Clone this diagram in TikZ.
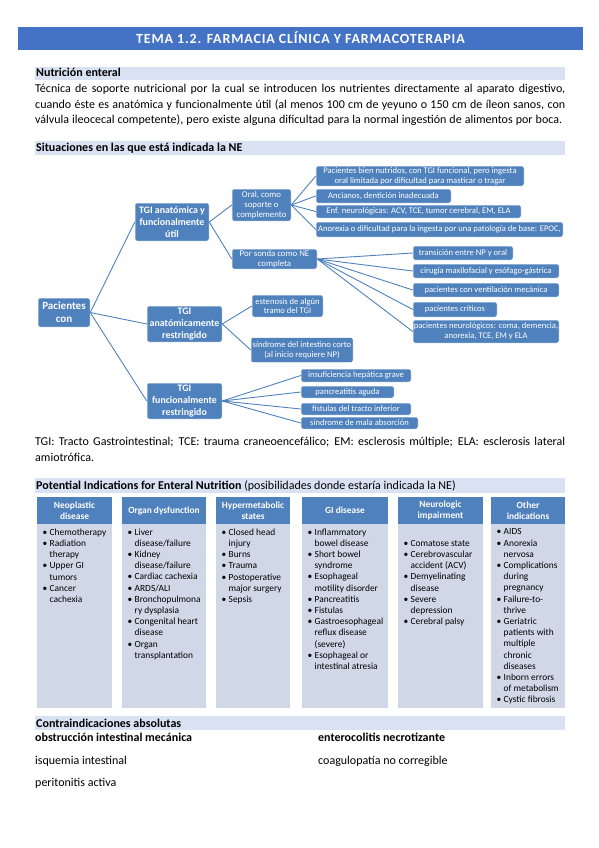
\documentclass[tikz,border=0pt]{standalone}
\usepackage{fontspec}
\setmainfont{Carlito}
\definecolor{titlebar}{HTML}{4472C4}
\definecolor{headbar}{HTML}{D9E2F3}
\definecolor{boxblue}{HTML}{4F81BD}
\definecolor{colpale}{HTML}{D0D8E8}
\def\itm#1{\makebox[7pt][l]{\textbullet}#1}
\def\cnt#1{\hspace*{7pt}#1}

\begin{document}
\begin{tikzpicture}[x=1pt, y=-1pt,
	box/.style={fill=boxblue, draw=white, line width=0.5pt, rounded corners=2pt, text=white, align=center, inner sep=0pt},
	leaf/.style={box, font=\fontsize{8.6}{9.6}\selectfont},
	mid/.style={box, font=\fontsize{8.8}{10}\selectfont},
	tgi/.style={box, font=\bfseries\fontsize{9.9}{11.8}\selectfont},
	link/.style={draw=boxblue, line width=0.9pt},
	colhead/.style={fill=boxblue, text=white, align=center, inner sep=0pt, minimum height=27pt, font=\bfseries\fontsize{9.4}{10.6}\selectfont},
	bullets/.style={anchor=north west, inner sep=0pt, align=left, font=\fontsize{9.4}{11.2}\selectfont},
	plain/.style={anchor=base west, inner sep=0pt, font=\fontsize{12}{14}\selectfont},
	heading/.style={anchor=base west, inner sep=0pt, font=\bfseries\fontsize{12}{14}\selectfont}]
	\useasboundingbox (0,0) rectangle (599,848);
	%%%%% TITLE %%%%%
	\fill[titlebar] (18,27) rectangle (583,50);
	\node[anchor=base, inner sep=0pt, text=white, font=\bfseries\fontsize{14}{16}\selectfont\addfontfeature{LetterSpace=6}] (title) at (300.5,43.5) {TEMA 1.2. FARMACIA CLÍNICA Y FARMACOTERAPIA};
	
	%%%%% NUTRICION ENTERAL %%%%%
	\fill[headbar] (35,67) rectangle (565,80);
	\node[heading] (nutri) at (36,77) {Nutrición enteral};
	\node[plain] (par1) at (35,93) {\makebox[530pt][s]{Técnica de soporte nutricional por la cual se introducen los nutrientes directamente al aparato digestivo,}};
	\node[plain] (par2) at (35,108.5) {\makebox[530pt][s]{cuando éste es anatómica y funcionalmente útil (al menos 100 cm de yeyuno o 150 cm de íleon sanos, con}};
	\node[plain] (par3) at (35,124) {\makebox[527pt][s]{válvula ileocecal competente), pero existe alguna dificultad para la normal ingestión de alimentos por boca.}};
	
	%%%%% SITUACIONES %%%%%
	\fill[headbar] (35,141) rectangle (565,155);
	\node[heading] (situ) at (36,151) {Situaciones en las que está indicada la NE};
	
	\node[box, font=\bfseries\fontsize{11}{13}\selectfont, minimum width=52pt, minimum height=29pt] (pac) at (64,312.5) {Pacientes\\con};
	
	\node[tgi, minimum width=74pt, minimum height=38pt] (tgiA) at (172,222) {TGI anatómica y\\funcionalmente\\útil};
	\node[mid, minimum width=59pt, minimum height=32pt] (oral) at (261.5,205) {Oral, como\\soporte o\\complemento};
	\node[mid, minimum width=85pt, minimum height=20pt] (sonda) at (274.5,259) {Por sonda como NE\\completa};
	
	\node[leaf, minimum width=208pt, minimum height=20pt] (o1) at (420,176) {Pacientes bien nutridos, con TGI funcional, pero ingesta\\oral limitada por dificultad para masticar o tragar};
	\node[leaf, minimum width=135pt, minimum height=14pt] (o2) at (383.5,196) {Ancianos, dentición inadecuada};
	\node[leaf, minimum width=205pt, minimum height=13pt] (o3) at (418.5,211.5) {Enf. neurológicas: ACV, TCE, tumor cerebral, EM, ELA};
	\node[leaf, minimum width=247pt, minimum height=15pt] (o4) at (439.5,229.5) {Anorexia o dificultad para la ingesta por una patología de base: EPOC,};
	
	\node[leaf, minimum width=100pt, minimum height=14pt] (s1) at (463,253) {transición entre NP y oral};
	\node[leaf, minimum width=146pt, minimum height=14pt] (s2) at (486,271) {cirugía maxilofacial y esófago-gástrica};
	\node[leaf, minimum width=146pt, minimum height=14pt] (s3) at (486,290) {pacientes con ventilación mecánica};
	\node[leaf, minimum width=84pt, minimum height=15pt] (s4) at (455,309.5) {pacientes críticos};
	\node[leaf, minimum width=146pt, minimum height=23pt] (s5) at (486,331.5) {pacientes neurológicos: coma, demencia,\\anorexia, TCE, EM y ELA};
	
	\node[tgi, minimum width=75pt, minimum height=36pt] (tgiR) at (184.5,324) {TGI\\anatómicamente\\restringido};
	\node[leaf, minimum width=71pt, minimum height=22pt] (r1) at (287.5,306) {estenosis de algún\\tramo del TGI};
	\node[leaf, minimum width=102pt, minimum height=25pt] (r2) at (302,350) {síndrome del intestino corto\\(al inicio requiere NP)};
	
	\node[tgi, minimum width=75pt, minimum height=36pt] (tgiF) at (184.5,401) {TGI\\funcionalmente\\restringido};
	\node[leaf, minimum width=110pt, minimum height=13pt] (f1) at (356,375.5) {insuficiencia hepática grave};
	\node[leaf, minimum width=93pt, minimum height=12pt] (f2) at (347.5,392) {pancreatitis aguda};
	\node[leaf, minimum width=110pt, minimum height=12pt] (f3) at (356,409) {fístulas del tracto inferior};
	\node[leaf, minimum width=117pt, minimum height=12pt] (f4) at (359.5,423) {síndrome de mala absorción};
	
	\draw[link] (pac.east) -- (tgiA.west);
	\draw[link] (pac.east) -- (tgiR.west);
	\draw[link] (pac.east) -- (tgiF.west);
	\draw[link] (tgiA.east) -- (oral.west);
	\draw[link] (tgiA.east) -- (sonda.west);
	\draw[link] (oral.east) -- (o1.west);
	\draw[link] (oral.east) -- (o2.west);
	\draw[link] (oral.east) -- (o3.west);
	\draw[link] (oral.east) -- (o4.west);
	\draw[link] (sonda.east) -- (s1.west);
	\draw[link] (sonda.east) -- (s2.west);
	\draw[link] (sonda.east) -- (s3.west);
	\draw[link] (sonda.east) -- (s4.west);
	\draw[link] (sonda.east) -- (s5.west);
	\draw[link] (tgiR.east) -- (r1.west);
	\draw[link] (tgiR.east) -- (r2.west);
	\draw[link] (tgiF.east) -- (f1.west);
	\draw[link] (tgiF.east) -- (f2.west);
	\draw[link] (tgiF.east) -- (f3.west);
	\draw[link] (tgiF.east) -- (f4.west);
	
	\node[plain] (foot1) at (35,445) {\makebox[530pt][s]{TGI: Tracto Gastrointestinal; TCE: trauma craneoencefálico; EM: esclerosis múltiple; ELA: esclerosis lateral}};
	\node[plain] (foot2) at (35,461) {amiotrófica.};
	
	%%%%% POTENTIAL INDICATIONS %%%%%
	\fill[headbar] (35,478) rectangle (565,493);
	\node[heading] (poten) at (36,489) {Potential Indications for Enteral Nutrition \mdseries(posibilidades donde estaría indicada la NE)};
	
	\fill[colpale] (37,524) rectangle (112,708);
	\fill[colpale] (122,524) rectangle (206,708);
	\fill[colpale] (216,524) rectangle (290,708);
	\fill[colpale] (302,524) rectangle (388,708);
	\fill[colpale] (398,524) rectangle (483,708);
	\fill[colpale] (491,524) rectangle (565,708);
	
	\node[colhead, minimum width=75pt] (neo) at (74.5,510.5) {Neoplastic\\disease};
	\node[colhead, minimum width=84pt] (org) at (164,510.5) {Organ dysfunction};
	\node[colhead, minimum width=74pt] (hyp) at (253,510.5) {Hypermetabolic\\states};
	\node[colhead, minimum width=86pt] (gi) at (345,510.5) {GI disease};
	\node[colhead, minimum width=85pt] (neu) at (440.5,510.5) {Neurologic\\impairment};
	\node[colhead, minimum width=74pt] (oth) at (528,510.5) {Other\\indications};
	
	\node[bullets] (neoL) at (42.5,528.5) {\itm{Chemotherapy}\\\itm{Radiation}\\\cnt{therapy}\\\itm{Upper GI}\\\cnt{tumors}\\\itm{Cancer}\\\cnt{cachexia}};
	\node[bullets] (orgL) at (127.5,528.5) {\itm{Liver}\\\cnt{disease/failure}\\\itm{Kidney}\\\cnt{disease/failure}\\\itm{Cardiac cachexia}\\\itm{ARDS/ALI}\\\itm{Bronchopulmona}\\\cnt{ry dysplasia}\\\itm{Congenital heart}\\\cnt{disease}\\\itm{Organ}\\\cnt{transplantation}};
	\node[bullets] (hypL) at (221.5,528.5) {\itm{Closed head}\\\cnt{injury}\\\itm{Burns}\\\itm{Trauma}\\\itm{Postoperative}\\\cnt{major surgery}\\\itm{Sepsis}};
	\node[bullets] (giL) at (307.5,528.5) {\itm{Inflammatory}\\\cnt{bowel disease}\\\itm{Short bowel}\\\cnt{syndrome}\\\itm{Esophageal}\\\cnt{motility disorder}\\\itm{Pancreatitis}\\\itm{Fistulas}\\\itm{Gastroesophageal}\\\cnt{reflux disease}\\\cnt{(severe)}\\\itm{Esophageal or}\\\cnt{intestinal atresia}};
	\node[bullets] (neuL) at (403.5,540) {\itm{Comatose state}\\\itm{Cerebrovascular}\\\cnt{accident (ACV)}\\\itm{Demyelinating}\\\cnt{disease}\\\itm{Severe}\\\cnt{depression}\\\itm{Cerebral palsy}};
	\node[bullets] (othL) at (496.5,528.5) {\itm{AIDS}\\\itm{Anorexia}\\\cnt{nervosa}\\\itm{Complications}\\\cnt{during}\\\cnt{pregnancy}\\\itm{Failure-to-}\\\cnt{thrive}\\\itm{Geriatric}\\\cnt{patients with}\\\cnt{multiple}\\\cnt{chronic}\\\cnt{diseases}\\\itm{Inborn errors}\\\cnt{of metabolism}\\\itm{Cystic fibrosis}};
	
	%%%%% CONTRAINDICACIONES %%%%%
	\fill[headbar] (35,716) rectangle (565,730);
	\node[heading] (contra) at (36,727) {Contraindicaciones absolutas};
	\node[plain, font=\bfseries\fontsize{12}{14}\selectfont] (c1) at (35,741) {obstrucción intestinal mecánica};
	\node[plain, font=\bfseries\fontsize{12}{14}\selectfont] (c2) at (318,741) {enterocolitis necrotizante};
	\node[plain] (c3) at (35,764) {isquemia intestinal};
	\node[plain] (c4) at (318,764) {coagulopatía no corregible};
	\node[plain] (c5) at (35,786) {peritonitis activa};
\end{tikzpicture}
\end{document}
